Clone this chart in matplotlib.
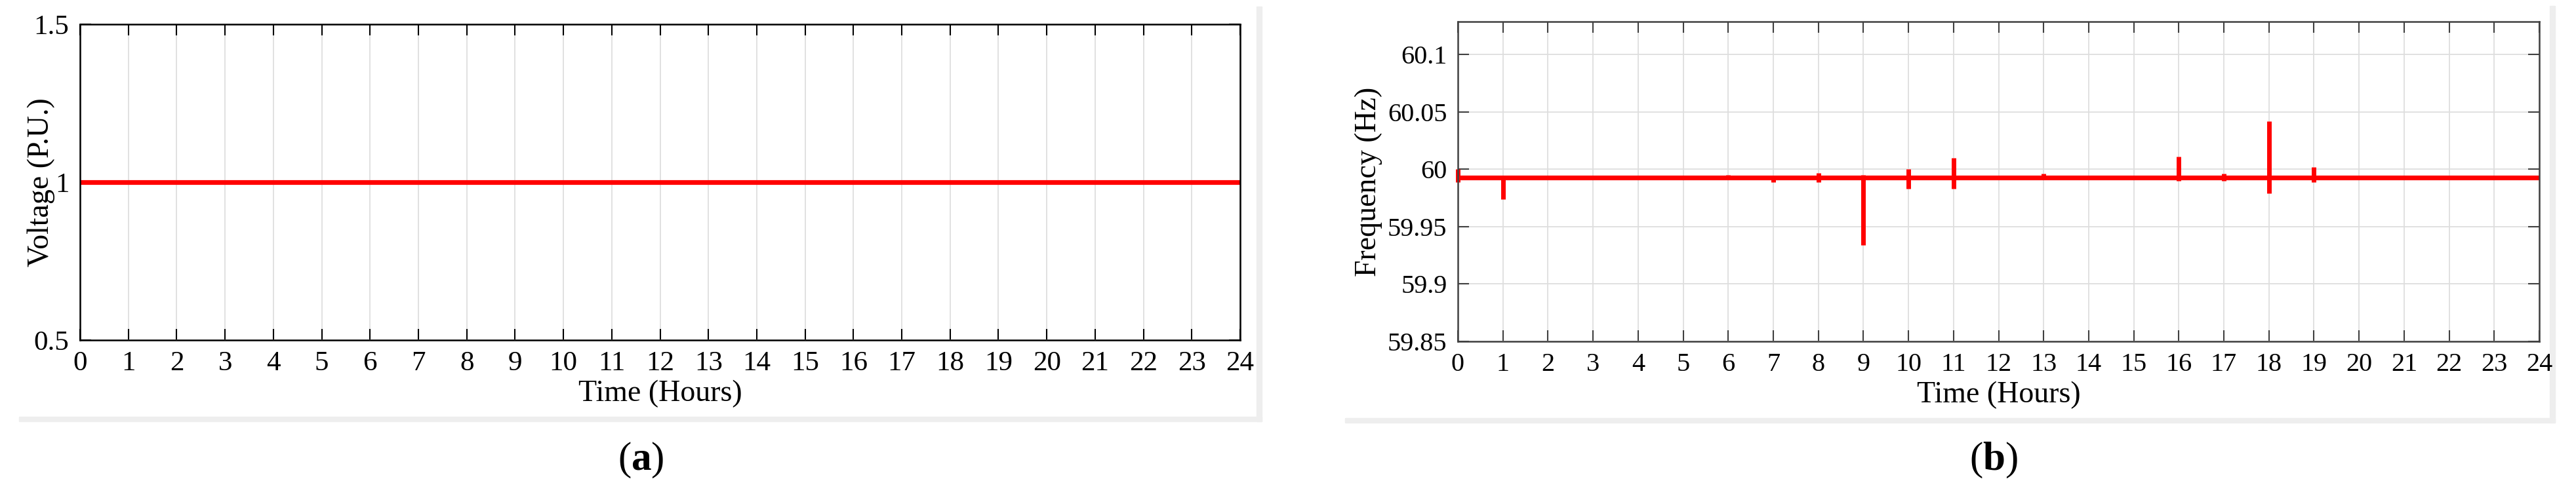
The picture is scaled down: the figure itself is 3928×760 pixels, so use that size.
import numpy as np
import matplotlib.pyplot as plt
from matplotlib.patches import Rectangle
from matplotlib.ticker import FormatStrFormatter

plt.rcParams['font.family'] = ['Liberation Serif', 'DejaVu Serif']
plt.rcParams['mathtext.fontset'] = 'custom'
plt.rcParams['mathtext.rm'] = 'Liberation Serif'
plt.rcParams['mathtext.bf'] = 'Liberation Serif:bold'

# panel (a): bus voltage over the day
hours = list(range(0, 25))
voltage = [1.0] * len(hours)

# panel (b): frequency, flat base with short excursions at some hours
freq_base = 59.993
event_hours = [0, 1, 6, 7, 8, 9, 10, 11, 13, 16, 17, 18, 19, 20, 23]
event_max = [60.000, 59.993, 59.995, 59.993, 59.997, 59.995, 60.000, 60.010,
             59.996, 60.011, 59.996, 60.042, 60.002, 59.993, 59.993]
event_min = [59.989, 59.974, 59.992, 59.989, 59.989, 59.934, 59.983, 59.983,
             59.993, 59.990, 59.990, 59.979, 59.989, 59.991, 59.991]

volt_ticks = [0.5, 1, 1.5]
freq_ticks = [59.85, 59.9, 59.95, 60, 60.05, 60.1]

W, H = 3928, 760
fig = plt.figure(figsize=(W / 100, H / 100), dpi=100)


def fx(px):
    return px / W


def fy(py):
    return 1 - py / H


def style_axis(ax, spine_col, fs):
    ax.set_xlim(0, 24)
    ax.set_xticks(hours)
    ax.tick_params(direction='in', length=12, width=1.5, top=True, right=True,
                   labelsize=fs, colors=spine_col, labelcolor='black', pad=12)
    for s in ax.spines.values():
        s.set_color(spine_col)
        s.set_linewidth(1.8)
    ax.grid(True, color='#dedede', linewidth=1.3)
    ax.set_axisbelow(True)


# (a)
ax1 = fig.add_axes([fx(122), fy(519), fx(1891 - 122), (519 - 37) / H])
ax1.plot(hours, voltage, color='red', linewidth=5.2)
ax1.set_ylim(0.5, 1.5)
ax1.set_yticks(volt_ticks)
ax1.yaxis.set_major_formatter(FormatStrFormatter('%g'))
style_axis(ax1, 'black', 31)
ax1.set_ylabel('Voltage (P.U.)', fontsize=33)
ax1.yaxis.set_label_coords(-0.0215, 0.5)
ax1.set_xlabel('Time (Hours)', fontsize=33)
ax1.xaxis.set_label_coords(0.5, -0.125)

# (b)
ax2 = fig.add_axes([fx(2223), fy(521), fx(3872 - 2223), (521 - 33) / H])
ax2.plot([0, 24], [freq_base, freq_base], color='red', linewidth=5.2,
         solid_capstyle='butt')
ax2.vlines(event_hours, event_min, event_max, color='red', linewidth=5,
           clip_on=False)
ax2.set_ylim(59.85, 60.1286)
ax2.set_yticks(freq_ticks)
ax2.yaxis.set_major_formatter(FormatStrFormatter('%g'))
style_axis(ax2, '#404040', 29)
ax2.set_ylabel('Frequency (Hz)', fontsize=33)
ax2.yaxis.set_label_coords(-0.0697, 0.5)
ax2.set_xlabel('Time (Hours)', fontsize=33)
ax2.xaxis.set_label_coords(0.5, -0.125)

# light grey frame shadow under each panel
for x0, x1, y0, y1 in [(29, 1924, 636, 643), (1916, 1924, 10, 643),
                       (2051, 3896, 638, 645), (3888, 3896, 9, 645)]:
    fig.add_artist(Rectangle((fx(x0), fy(y1)), fx(x1 - x0), (y1 - y0) / H,
                             transform=fig.transFigure, color='#eeeeee', zorder=0))

fig.text(fx(977), fy(702), r'($\mathbf{a}$)', ha='center', va='center', fontsize=44)
fig.text(fx(3040), fy(702), r'($\mathbf{b}$)', ha='center', va='center', fontsize=44)

fig.savefig('out.png', dpi=100)
